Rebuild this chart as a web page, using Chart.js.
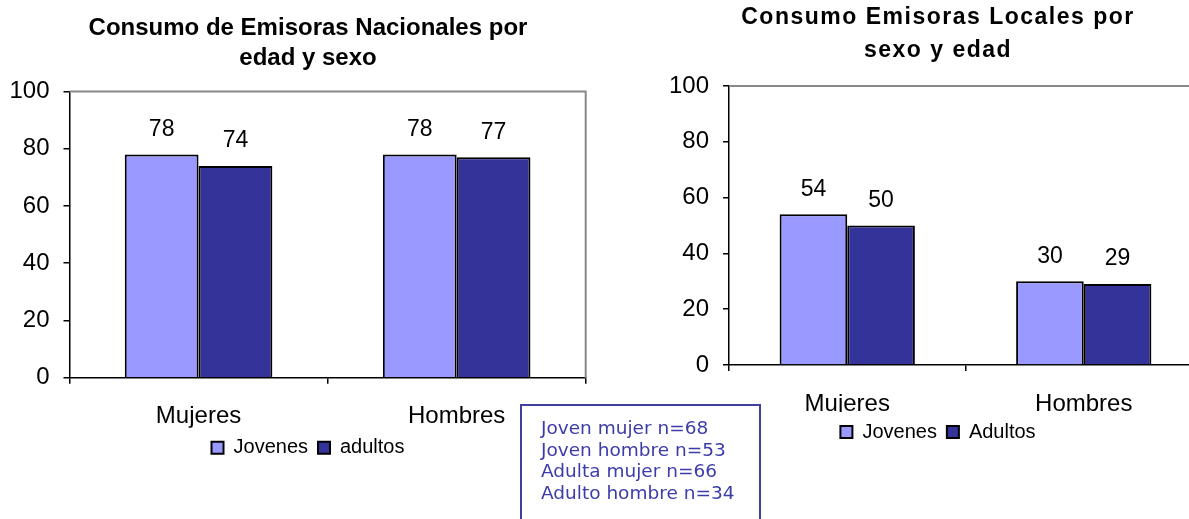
<!DOCTYPE html>
<html>
<head>
<meta charset="utf-8">
<script src="https://cdn.jsdelivr.net/npm/chart.js@4/dist/chart.umd.min.js"></script>
<style>
  html, body { margin: 0; padding: 0; background: #fff; overflow: hidden; }
  body { width: 1189px; height: 519px; position: relative; }
  #nacionales { position: absolute; left: 0; top: 0; }
  #locales { position: absolute; left: 600px; top: 0; }
  #muestra {
    position: absolute; left: 520px; top: 404px; width: 241px; height: 120px;
    border: 2px solid #4040a0; box-sizing: border-box;
    padding: 11px 0 0 19px;
    font-family: "DejaVu Sans", Verdana, sans-serif; font-size: 18.5px; line-height: 21.5px;
    color: #3c3caa;
  }
</style>
</head>
<body>
<canvas id="nacionales" width="616" height="470"></canvas>
<canvas id="locales" width="676" height="519"></canvas>
<div id="muestra">
  Joven mujer n=68<br>
  Joven hombre n=53<br>
  Adulta mujer n=66<br>
  Adulto hombre n=34
</div>
<script>
const categorias = ["Mujeres", "Hombres"];
const nacionalesJovenes = [78, 78];
const nacionalesAdultos = [74, 77];
const localesJovenes = [54, 30];
const localesAdultos = [50, 29];
const ejeMin = 0, ejeMax = 100, ejePaso = 20;

const colorJovenes = "#9999ff";
const colorAdultos = "#333399";

Chart.defaults.color = "#000";
Chart.defaults.font.family = "Arial, 'Liberation Sans', sans-serif";

// numeros sobre las barras
const etiquetas = {
  id: "etiquetas",
  afterDatasetsDraw(chart) {
    const ctx = chart.ctx;
    ctx.save();
    ctx.font = "23px Arial, 'Liberation Sans', sans-serif";
    ctx.fillStyle = "#000";
    ctx.textAlign = "center";
    ctx.textBaseline = "middle";
    chart.data.datasets.forEach((ds, i) => {
      chart.getDatasetMeta(i).data.forEach((bar, j) => {
        ctx.fillText(ds.data[j], bar.x, bar.y - 25);
      });
    });
    ctx.restore();
  }
};

// borde gris arriba y a la derecha del area
const marco = {
  id: "marco",
  beforeDatasetsDraw(chart) {
    const {ctx, chartArea: a} = chart;
    ctx.save();
    ctx.strokeStyle = "#888";
    ctx.lineWidth = 2;
    ctx.beginPath();
    ctx.moveTo(a.left, a.top);
    ctx.lineTo(a.right, a.top);
    ctx.lineTo(a.right, a.bottom);
    ctx.stroke();
    ctx.restore();
  }
};

// espaciado de letras en el titulo
const espaciado = {
  id: "espaciado",
  beforeDraw(chart, args, opts) {
    const t = chart.titleBlock;
    if (t && !t._espaciado) {
      const orig = t.draw;
      t.draw = function (...a) {
        const c = this.ctx;
        const prev = c.letterSpacing;
        c.letterSpacing = opts.px + "px";
        orig.apply(this, a);
        c.letterSpacing = prev;
      };
      t._espaciado = true;
    }
  }
};

function crearGrafico(id, titulo, jovenes, adultos, nombres, o) {
  const config = {
    type: "bar",
    data: {
      labels: categorias,
      datasets: [
        { label: nombres[0], data: jovenes, backgroundColor: colorJovenes, borderColor: "#000", borderWidth: 2 },
        { label: nombres[1], data: adultos, backgroundColor: colorAdultos, borderColor: "#000", borderWidth: 2 }
      ]
    },
    options: {
      responsive: false,
      animation: false,
      devicePixelRatio: 1,
      layout: { padding: { left: 0, right: 0, top: 0, bottom: o.padB } },
      datasets: { bar: { barPercentage: 1, categoryPercentage: 0.572 } },
      scales: {
        x: {
          afterFit: s => { s.height = o.xAlto; },
          grid: { offset: true, drawOnChartArea: false, tickLength: 6, color: "#000", lineWidth: 1.5 },
          border: { color: "#000", width: 1.5 },
          ticks: { font: { size: 24 }, padding: 18.5, color: "#000" }
        },
        y: {
          min: ejeMin, max: ejeMax,
          afterFit: s => { s.width = o.yAncho; },
          grid: { drawOnChartArea: false, tickLength: 6, color: "#000", lineWidth: 1.5 },
          border: { color: "#000", width: 1.5 },
          ticks: { stepSize: ejePaso, font: { size: 24 }, padding: 14, color: "#000" }
        },
        // eje vacio a la derecha, solo para reservar espacio
        derecha: {
          position: "right",
          afterFit: s => { s.width = o.derAncho; },
          grid: { display: false },
          border: { display: false },
          ticks: { display: false }
        }
      },
      plugins: {
        title: {
          display: true,
          text: titulo,
          font: { size: o.tituloTam, weight: "bold", lineHeight: o.tituloLinea },
          padding: { top: o.tituloArriba, bottom: o.tituloAbajo },
          color: "#000"
        },
        legend: {
          position: "bottom",
          labels: { font: { size: 20 }, boxWidth: 12, boxHeight: 12, padding: 10, color: "#000" }
        },
        tooltip: { enabled: false },
        espaciado: { px: o.espacio }
      }
    },
    plugins: [etiquetas, marco, espaciado]
  };
  return new Chart(document.getElementById(id), config);
}

crearGrafico("nacionales",
  ["Consumo de Emisoras Nacionales por", "edad y sexo"],
  nacionalesJovenes, nacionalesAdultos, ["Jovenes", "adultos"],
  { padB: 2.3, xAlto: 50, yAncho: 69.5, derAncho: 30.3, tituloTam: 24, tituloLinea: "30px", tituloArriba: 13, tituloAbajo: 18.5, espacio: 0 });

crearGrafico("locales",
  ["Consumo Emisoras Locales por", "sexo y edad"],
  localesJovenes, localesAdultos, ["Jovenes", "Adultos"],
  { padB: 67, xAlto: 47, yAncho: 129, derAncho: 74, tituloTam: 23, tituloLinea: "33px", tituloArriba: 1, tituloAbajo: 19, espacio: 1.5 });
</script>
</body>
</html>
